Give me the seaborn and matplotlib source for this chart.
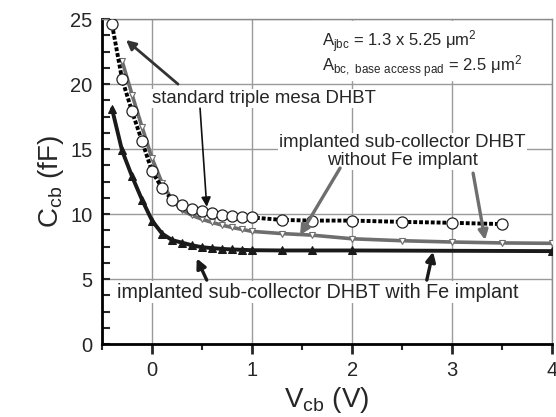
import numpy as np
import pandas as pd
import matplotlib
matplotlib.use("Agg")
import matplotlib.pyplot as plt
from matplotlib.ticker import MultipleLocator
import seaborn as sns

# C-V data
vcb_mesa = [-0.4, -0.3, -0.2, -0.1, 0.0, 0.1, 0.2, 0.3, 0.4, 0.5, 0.6, 0.7, 0.8, 0.9, 1.0,
            1.3, 1.6, 2.0, 2.5, 3.0, 3.5]
ccb_mesa = [24.6, 20.4, 17.9, 15.6, 13.3, 12.0, 11.1, 10.7, 10.4, 10.2, 10.05, 9.9, 9.85, 9.8, 9.74,
            9.55, 9.5, 9.5, 9.4, 9.33, 9.23]

vcb_nofe = [-0.3, -0.2, -0.1, 0.0, 0.1, 0.2, 0.3, 0.4, 0.5, 0.6, 0.7, 0.8, 0.9, 1.0,
            1.3, 1.6, 2.0, 2.5, 3.0, 3.5, 4.0]
ccb_nofe = [21.8, 19.2, 16.7, 14.3, 12.4, 11.1, 10.3, 9.9, 9.6, 9.36, 9.15, 8.97, 8.82, 8.67,
            8.5, 8.38, 8.1, 7.95, 7.85, 7.78, 7.75]

vcb_fe = [-0.4, -0.3, -0.2, -0.1, 0.0, 0.1, 0.2, 0.3, 0.4, 0.5, 0.6, 0.7, 0.8, 0.9, 1.0,
          1.3, 1.6, 2.0, 4.0]
ccb_fe = [18.1, 14.9, 12.9, 11.1, 9.5, 8.5, 8.0, 7.8, 7.6, 7.45, 7.38, 7.32, 7.28, 7.25, 7.22,
          7.2, 7.2, 7.2, 7.15]

sns.set_style("ticks")
plt.rcParams['font.family'] = ['Liberation Sans', 'DejaVu Sans']
plt.rcParams['mathtext.fontset'] = 'custom'
plt.rcParams['mathtext.rm'] = 'Liberation Sans'

fig = plt.figure(figsize=(5.56, 4.17), dpi=100)
ax = fig.add_axes([0.1835, 0.175, 0.8095, 0.779])

mesa = pd.DataFrame({'V': vcb_mesa, 'C': ccb_mesa})
nofe = pd.DataFrame({'V': vcb_nofe, 'C': ccb_nofe})
fe = pd.DataFrame({'V': vcb_fe, 'C': ccb_fe})

sns.lineplot(data=nofe, x='V', y='C', ax=ax, color='#6e6e6e', lw=2.6, marker='v', markersize=4,
             markerfacecolor='white', markeredgecolor='#6e6e6e', markeredgewidth=0.8, zorder=4)
sns.lineplot(data=mesa, x='V', y='C', ax=ax, color='black', lw=2.8, linestyle=(0, (1.0, 0.5)),
             marker='o', markersize=8, markerfacecolor='white', markeredgecolor='#222222',
             markeredgewidth=0.9, zorder=5)
sns.lineplot(data=fe, x='V', y='C', ax=ax, color='#1a1a1a', lw=2.8, marker='^', markersize=5.5,
             markeredgecolor='#1a1a1a', zorder=4)

ax.set_xlim(-0.5, 4)
ax.set_ylim(0, 25)
ax.xaxis.set_major_locator(MultipleLocator(1))
ax.xaxis.set_minor_locator(MultipleLocator(0.5))
ax.yaxis.set_major_locator(MultipleLocator(5))
ax.yaxis.set_minor_locator(MultipleLocator(1.25))
ax.grid(True, which='major', color='#9a9a9a', lw=1.0, zorder=0)
ax.set_axisbelow(True)

ax.tick_params(axis='y', which='both', direction='in', length=6, width=1.5, labelsize=14.5, pad=7)
ax.tick_params(axis='x', which='major', direction='out', length=7, width=2, labelsize=14.5, pad=5)
ax.tick_params(axis='x', which='minor', direction='out', length=4, width=1.5)

for side in ['left', 'bottom']:
    ax.spines[side].set_linewidth(2)
    ax.spines[side].set_color('black')
for side in ['top', 'right']:
    ax.spines[side].set_linewidth(1)
    ax.spines[side].set_color('#8a8a8a')

ax.set_xlabel(r'V$_{\mathregular{cb}}$ (V)', fontsize=20, labelpad=4)
ax.set_ylabel(r'C$_{\mathregular{cb}}$ (fF)', fontsize=20, labelpad=3)

box = dict(facecolor='white', edgecolor='none', pad=1)
ax.text(1.12, 18.9, 'standard triple mesa DHBT', fontsize=13.4, ha='center', va='center',
        bbox=box, zorder=3)
ax.text(2.5, 14.8, 'implanted sub-collector DHBT\nwithout Fe implant', fontsize=13.4,
        ha='center', va='center', multialignment='center', linespacing=1.05, bbox=box, zorder=3)
ax.text(1.66, 4.0, 'implanted sub-collector DHBT with Fe implant', fontsize=14.2,
        ha='center', va='center', bbox=box, zorder=3)
ax.text(1.7, 22.9, r'A$_{\mathregular{jbc}}$ = 1.3 x 5.25 $\mathregular{\mu m^2}$', fontsize=12,
        ha='left', va='baseline', zorder=3)
ax.text(1.7, 21.0, r'A$_{\mathregular{bc,\ base\ access\ pad}}$ = 2.5 $\mathregular{\mu m^2}$',
        fontsize=12, ha='left', va='baseline', zorder=3)
# white patch behind the area note (hides grid like the reference)
ax.axvspan(1.58, 4.0, ymin=20.3 / 25, ymax=24.85 / 25, color='white', zorder=1)

arrows = [((0.26, 20.0), (-0.26, 23.4), '#333333', 2.0),
          ((0.48, 18.15), (0.547, 10.56), '#111111', 1.2),
          ((1.88, 13.54), (1.48, 8.38), '#6e6e6e', 2.4),
          ((3.21, 13.15), (3.33, 8.0), '#6e6e6e', 2.4),
          ((0.547, 4.92), (0.447, 6.59), '#1a1a1a', 2.4),
          ((2.747, 4.92), (2.81, 7.1), '#1a1a1a', 2.4)]
for tail, tip, col, lw in arrows:
    ax.annotate('', xy=tip, xytext=tail,
                arrowprops=dict(arrowstyle='-|>', color=col, lw=lw, mutation_scale=14,
                                shrinkA=0, shrinkB=0), zorder=6)

fig.savefig('out.png', dpi=100)
